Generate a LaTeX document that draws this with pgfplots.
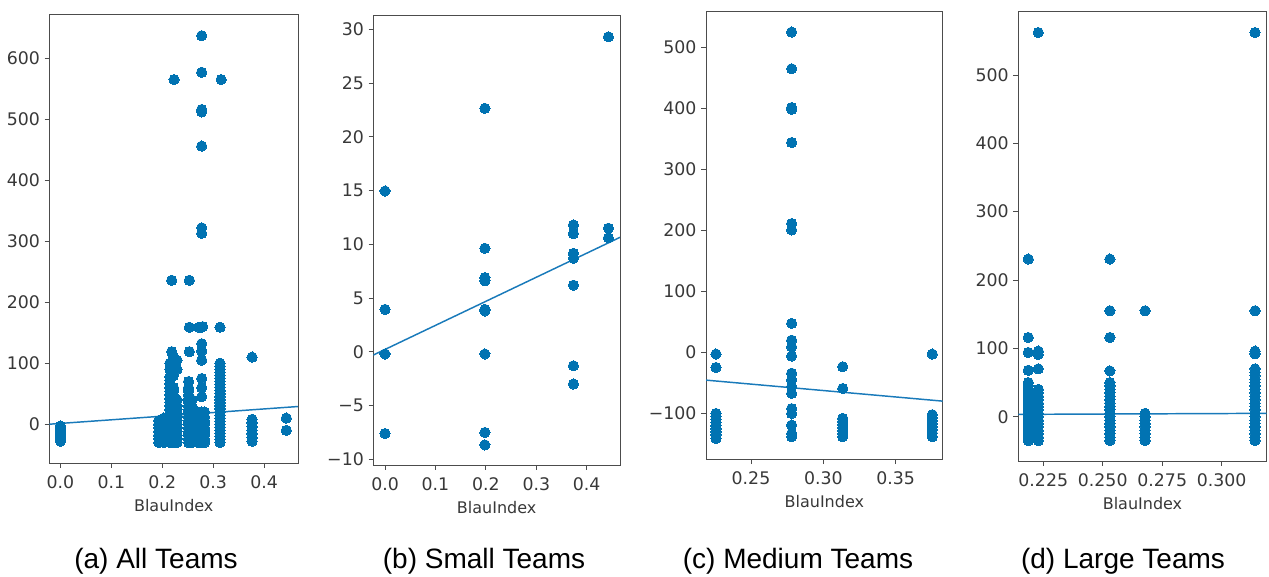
\documentclass[border=0pt]{standalone}
\usepackage{fontspec}
\setmainfont{Liberation Sans}
\newfontfamily\dejavu{DejaVu Sans}
\usepackage{pgfplots}
\pgfplotsset{compat=1.18}

\definecolor{dotblue}{RGB}{1,115,178}
\definecolor{fitblue}{RGB}{25,122,186}

\pgfplotsset{
  panel/.style={
    scale only axis, anchor=south west,
    axis line style={draw=black!70, line width=0.7pt},
    tick align=outside, xtick pos=bottom, ytick pos=left,
    major tick length=3.6pt,
    tick style={draw=black!70, line width=0.6pt},
    ticklabel style={font=\dejavu\fontsize{13}{15}\selectfont, text=black!78},
    xticklabel style={yshift=-2.5pt},
    xlabel={BlauIndex},
    xlabel style={font=\dejavu\fontsize{12}{14}\selectfont, text=black!78, yshift=-1pt},
    clip=true,
  },
  dots/.style={only marks, mark=*, mark size=3.85pt, color=dotblue,
    mark options={draw=dotblue, fill=dotblue, line width=0pt}},
  fit/.style={no marks, draw=fitblue, line width=1.1pt},
}

\begin{document}
\begin{tikzpicture}
\path[use as bounding box] (0pt,0pt) rectangle (951.75pt,432.75pt);

% ---------------- (a) All Teams ----------------
\begin{axis}[panel, at={(37.1pt,85.5pt)}, width=186.4pt, height=336.5pt,
  xmin=-0.0216, xmax=0.4667, ymin=-63.6, ymax=672,
  xtick={0,0.1,0.2,0.3,0.4}, xticklabels={0.0,0.1,0.2,0.3,0.4},
  ytick={0,100,200,300,400,500,600}, yticklabels={0,100,200,300,400,500,600}]
\addplot[dots] coordinates {
 (0,-3) (0,-8) (0,-13) (0,-18) (0,-23) (0,-28)
 (0.193,-30) (0.193,-24) (0.193,-18) (0.193,-12) (0.193,-6) (0.193,0) (0.193,6)
 (0.203,-30) (0.203,-24) (0.203,-18) (0.203,-12) (0.203,-6) (0.203,0) (0.203,6) (0.203,10)
 (0.215,-30) (0.215,-24) (0.215,-18) (0.215,-12) (0.215,-6) (0.215,0) (0.215,6) (0.215,12)
 (0.215,18) (0.215,24) (0.215,30) (0.215,36) (0.215,42) (0.215,48) (0.215,54) (0.215,60)
 (0.215,66) (0.215,72) (0.215,78) (0.215,90) (0.215,100) (0.2186,119) (0.2186,236)
 (0.222,-30) (0.222,-24) (0.222,-18) (0.222,-12) (0.222,-6) (0.222,0) (0.222,6) (0.222,12)
 (0.222,18) (0.222,24) (0.222,30) (0.222,36) (0.222,42) (0.222,48) (0.222,54) (0.222,60)
 (0.222,80) (0.222,95) (0.222,110) (0.2232,565)
 (0.229,-30) (0.229,-24) (0.229,-18) (0.229,-12) (0.229,-6) (0.229,0) (0.229,6) (0.229,12)
 (0.229,18) (0.229,24) (0.229,30) (0.229,40) (0.229,90) (0.229,105)
 (0.2516,-30) (0.2516,-24) (0.2516,-18) (0.2516,-12) (0.2516,-6) (0.2516,0) (0.2516,6)
 (0.2516,12) (0.2516,18) (0.2516,24) (0.2516,30) (0.2516,36) (0.2516,42) (0.2516,48)
 (0.2516,54) (0.2516,60) (0.2516,70) (0.2532,119) (0.2532,159) (0.2532,236)
 (0.258,-30) (0.258,-24) (0.258,-18) (0.258,-12) (0.258,-6) (0.258,0) (0.258,6) (0.258,12)
 (0.258,18) (0.258,24) (0.258,30) (0.258,40)
 (0.270,-30) (0.270,-24) (0.270,-18) (0.270,-12) (0.270,-6) (0.270,0) (0.270,6) (0.270,12)
 (0.270,20) (0.2717,159)
 (0.2775,-30) (0.2775,-24) (0.2775,-18) (0.2775,-12) (0.2775,-6) (0.2775,0) (0.2775,8)
 (0.2775,20) (0.2775,45) (0.2775,60) (0.2775,75) (0.2775,105) (0.2775,120) (0.2775,132)
 (0.2775,159) (0.2775,313) (0.2775,322) (0.2775,456) (0.2775,512) (0.2775,516)
 (0.2775,577) (0.2775,637)
 (0.283,-30) (0.283,-24) (0.283,-18) (0.283,-12) (0.283,-6) (0.283,0) (0.283,6) (0.283,12)
 (0.283,20) (0.2795,160)
 (0.3135,-30) (0.3135,-25) (0.3135,-20) (0.3135,-15) (0.3135,-10) (0.3135,-5) (0.3135,0)
 (0.3135,5) (0.3135,10) (0.3135,15) (0.3135,20) (0.3135,25) (0.3135,30) (0.3135,35)
 (0.3135,40) (0.3135,45) (0.3135,50) (0.3135,55) (0.3135,60) (0.3135,65) (0.3135,70)
 (0.3135,75) (0.3135,80) (0.3135,85) (0.3135,90) (0.3135,95) (0.3135,100) (0.3135,159)
 (0.3157,565)
 (0.3765,-28) (0.3765,-22) (0.3765,-16) (0.3765,-10) (0.3765,-4) (0.3765,2) (0.3765,8)
 (0.3765,110)
 (0.4437,-10) (0.4437,10)
};
\addplot[fit] coordinates {(-0.0216,0.0) (0.4667,29.0)};
\end{axis}

% ---------------- (b) Small Teams ----------------
\begin{axis}[panel, at={(280pt,84pt)}, width=185pt, height=337pt,
  xmin=-0.0232, xmax=0.466, ymin=-10.53, ymax=31.27,
  xtick={0,0.1,0.2,0.3,0.4}, xticklabels={0.0,0.1,0.2,0.3,0.4},
  ytick={-10,-5,0,5,10,15,20,25,30},
  yticklabels={−10,−5,0,5,10,15,20,25,30}]
\addplot[dots] coordinates {
 (0,14.96) (0,3.95) (0,-0.2) (0,-7.6)
 (0.198,22.65) (0.198,9.63) (0.198,6.9) (0.198,6.6) (0.198,3.95) (0.198,3.8)
 (0.198,-0.2) (0.198,-7.5) (0.198,-8.66)
 (0.3736,11.8) (0.3736,11.0) (0.3736,9.16) (0.3736,8.7) (0.3736,6.2)
 (0.3736,-1.3) (0.3736,-3.0)
 (0.443,29.3) (0.443,11.5) (0.443,10.6)
};
\addplot[fit] coordinates {(-0.0232,-0.3) (0.466,10.65)};
\end{axis}

% ---------------- (c) Medium Teams ----------------
\begin{axis}[panel, at={(529.5pt,88.3pt)}, width=177.5pt, height=335.7pt,
  xmin=0.2189, xmax=0.3825, ymin=-175, ymax=558,
  xtick={0.25,0.30,0.35}, xticklabels={0.25,0.30,0.35},
  ytick={-100,0,100,200,300,400,500},
  yticklabels={−100,0,100,200,300,400,500}]
\addplot[dots] coordinates {
 (0.2258,-2.7) (0.2258,-24.6)
 (0.2258,-100) (0.2258,-105) (0.2258,-110) (0.2258,-115) (0.2258,-120) (0.2258,-125)
 (0.2258,-130) (0.2258,-135) (0.2258,-141)
 (0.2781,524.6) (0.2781,464.5) (0.2781,401) (0.2781,398) (0.2781,343.7)
 (0.2781,211) (0.2781,200.5) (0.2781,47.5) (0.2781,20) (0.2781,9) (0.2781,-6)
 (0.2781,-34) (0.2781,-45) (0.2781,-56) (0.2781,-67) (0.2781,-92) (0.2781,-100)
 (0.2781,-119) (0.2781,-133) (0.2781,-138)
 (0.3134,-23.5) (0.3134,-59)
 (0.3134,-108) (0.3134,-113) (0.3134,-118) (0.3134,-123) (0.3134,-128)
 (0.3134,-133) (0.3134,-138)
 (0.3753,-2.7)
 (0.3753,-102) (0.3753,-107) (0.3753,-112) (0.3753,-117) (0.3753,-122)
 (0.3753,-127) (0.3753,-132) (0.3753,-138)
};
\addplot[fit] coordinates {(0.2189,-45.4) (0.3825,-79.8)};
\end{axis}

% ---------------- (d) Large Teams ----------------
\begin{axis}[panel, at={(763.7pt,87pt)}, width=186.3pt, height=337pt,
  xmin=0.2145, xmax=0.3189, ymin=-64.8, ymax=592.6,
  xtick={0.225,0.25,0.275,0.3}, xticklabels={0.225,0.250,0.275,0.300},
  ytick={0,100,200,300,400,500}, yticklabels={0,100,200,300,400,500}]
\addplot[dots] coordinates {
 (0.2187,230.7) (0.2187,116) (0.2187,94) (0.2187,68)
 (0.2187,-35) (0.2187,-30) (0.2187,-25) (0.2187,-20) (0.2187,-15) (0.2187,-10)
 (0.2187,-5) (0.2187,0) (0.2187,5) (0.2187,10) (0.2187,15) (0.2187,20) (0.2187,25)
 (0.2187,30) (0.2187,35) (0.2187,40) (0.2187,45) (0.2187,50)
 (0.2229,562) (0.2229,96) (0.2229,91) (0.2229,70)
 (0.2229,-35) (0.2229,-30) (0.2229,-25) (0.2229,-20) (0.2229,-15) (0.2229,-10)
 (0.2229,-5) (0.2229,0) (0.2229,5) (0.2229,10) (0.2229,15) (0.2229,20) (0.2229,25)
 (0.2229,30) (0.2229,35) (0.2229,40)
 (0.2530,230.7) (0.2530,155) (0.2530,116) (0.2530,67)
 (0.2530,-35) (0.2530,-30) (0.2530,-25) (0.2530,-20) (0.2530,-15) (0.2530,-10)
 (0.2530,-5) (0.2530,0) (0.2530,5) (0.2530,10) (0.2530,15) (0.2530,20) (0.2530,25)
 (0.2530,30) (0.2530,35) (0.2530,40) (0.2530,45) (0.2530,50)
 (0.2678,155)
 (0.2678,-35) (0.2678,-30) (0.2678,-25) (0.2678,-20) (0.2678,-15) (0.2678,-10)
 (0.2678,-5) (0.2678,0) (0.2678,5)
 (0.3140,562) (0.3140,155) (0.3140,96) (0.3140,92)
 (0.3140,-35) (0.3140,-30) (0.3140,-25) (0.3140,-20) (0.3140,-15) (0.3140,-10)
 (0.3140,-5) (0.3140,0) (0.3140,5) (0.3140,10) (0.3140,15) (0.3140,20) (0.3140,25)
 (0.3140,30) (0.3140,35) (0.3140,40) (0.3140,45) (0.3140,50) (0.3140,55)
 (0.3140,60) (0.3140,65) (0.3140,70)
};
\addplot[fit] coordinates {(0.2145,3.4) (0.3189,4.9)};
\end{axis}

% sub-figure captions
\begin{scope}[every node/.style={font=\fontsize{21}{24}\selectfont, inner sep=0pt}]
\node at (117pt,12pt) {(a) All Teams};
\node at (363pt,12pt) {(b) Small Teams};
\node at (598.5pt,12pt) {(c) Medium Teams};
\node at (842.25pt,12pt) {(d) Large Teams};
\end{scope}
\end{tikzpicture}
\end{document}
